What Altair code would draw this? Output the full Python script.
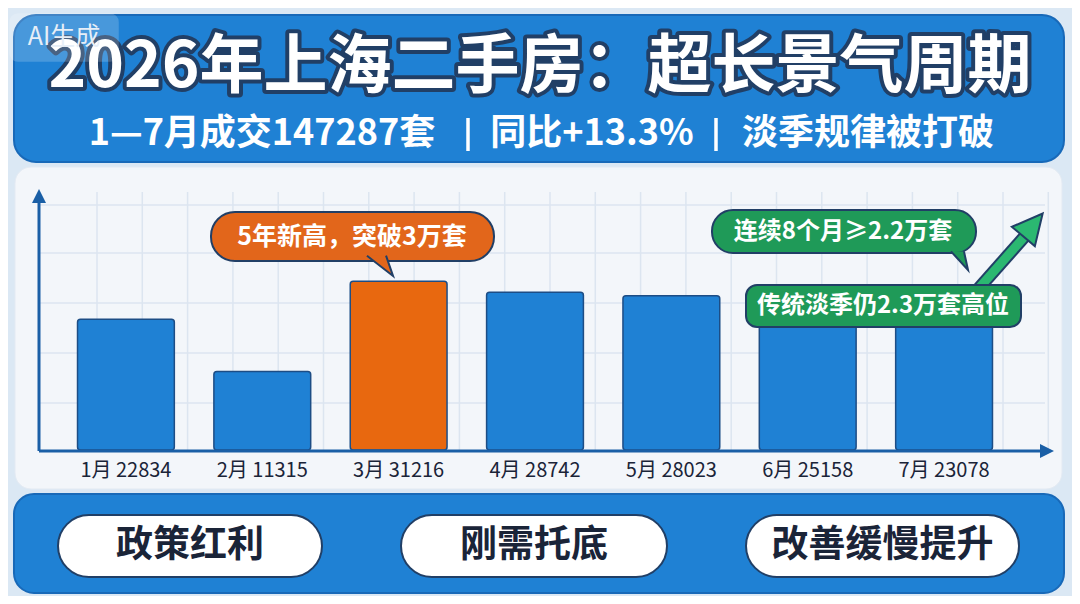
import altair as alt
import pandas as pd

# ---------------- data ----------------
months = ["1月", "2月", "3月", "4月", "5月", "6月", "7月"]
volumes = [22834, 11315, 31216, 28742, 28023, 25158, 23078]
highlight_month = "3月"

title_text = "2026年上海二手房：超长景气周期"
subtitle_parts = ["1—7月成交147287套", "同比+13.3%", "淡季规律被打破"]
callout_peak = "5年新高，突破3万套"
callout_streak = "连续8个月≥2.2万套"
callout_offseason = "传统淡季仍2.3万套高位"
factors = ["政策红利", "刚需托底", "改善缓慢提升"]
watermark = "AI生成"

# ---------------- styling ----------------
W, H = 1064, 588
OX, OY = 8, 8
FONT = "Noto Sans CJK SC"
BG = "#dbe8f4"
BLUE = "#1f81d4"
BLUE_DARK = "#1a5fa6"
ORANGE = "#e8680f"
GREEN = "#1f9a58"
ARROW_GREEN = "#2bb871"
OUTLINE = "#213f66"
NAVY = "#1a2438"

one = alt.Data(values=[{"a": 1}])


def sx(x):
    return x - OX


def sy(y):
    return y - OY


def box(x1, y1, x2, y2, fill, stroke=None, sw=0, r=0, opacity=1.0):
    kw = dict(fill=fill, cornerRadius=r, opacity=opacity)
    if stroke:
        kw.update(stroke=stroke, strokeWidth=sw)
    return alt.Chart(one).mark_rect(**kw).encode(
        x=alt.value(sx(x1)), x2=alt.value(sx(x2)),
        y=alt.value(sy(y1)), y2=alt.value(sy(y2)))


def label(txt, x, y, size, color, weight="normal", stroke=None, sw=0, align="center"):
    kw = dict(text=txt, fontSize=size, font=FONT, fill=color, fontWeight=weight,
              align=align, baseline="middle")
    if stroke:
        kw.update(stroke=stroke, strokeWidth=sw, strokeJoin="round")
    return alt.Chart(one).mark_text(**kw).encode(x=alt.value(sx(x)), y=alt.value(sy(y)))


def line(x1, y1, x2, y2, color, w, cap="butt"):
    return alt.Chart(one).mark_rule(color=color, strokeWidth=w, strokeCap=cap).encode(
        x=alt.value(sx(x1)), x2=alt.value(sx(x2)),
        y=alt.value(sy(y1)), y2=alt.value(sy(y2)))


def shape(path, x, y, side, fill, stroke=None, sw=0, angle=0):
    kw = dict(shape=path, size=side * side, filled=True, fill=fill, opacity=1, angle=angle)
    if stroke:
        kw.update(stroke=stroke, strokeWidth=sw, strokeOpacity=1)
    else:
        kw.update(strokeWidth=0)
    return alt.Chart(one).mark_point(**kw).encode(x=alt.value(sx(x)), y=alt.value(sy(y)))


TRI_UP = "M 0 -1 L 1 1 L -1 1 Z"

layers = []

# header
layers.append(box(14, 15, 1064, 162, BLUE, stroke="#1869b8", sw=2, r=22))
layers.append(label(title_text, 540, 68, 64, OUTLINE, weight="bold", stroke=OUTLINE, sw=8))
layers.append(label(title_text, 540, 68, 64, "#ffffff", weight="bold"))
# subtitle: three segments separated by thin bars
layers.append(label(subtitle_parts[0], 262, 134, 36, "#ffffff", weight="bold"))
layers.append(line(468, 118, 468, 151, "#ffffff", 3.5))
layers.append(label(subtitle_parts[1], 592, 134, 36, "#ffffff", weight="bold"))
layers.append(line(716, 118, 716, 151, "#ffffff", 3.5))
layers.append(label(subtitle_parts[2], 868, 134, 36, "#ffffff", weight="bold"))

# watermark
layers.append(box(10, 14, 118, 61, "#ffffff", stroke="#ffffff", sw=1.5, r=8, opacity=0.18))
layers.append(label(watermark, 64, 37, 25, "#e6eef7"))

# chart panel
layers.append(box(15, 167, 1062, 489, "#f3f6fa", stroke="#e3eaf3", sw=1, r=16))

# grid
for gy in [205, 253, 303, 353, 403]:
    layers.append(line(40, gy, 1045, gy, "#dce5f0", 1.5))
gx = 97.0
while gx < 1050:
    layers.append(line(gx, 192, gx, 450, "#dce5f0", 1.5))
    gx += 45.3

# bars
df = pd.DataFrame({"month": months, "volume": volumes})
df["label"] = [f"{m} {v}" for m, v in zip(months, volumes)]

xenc = alt.X("month:N", sort=months, axis=None,
             scale=alt.Scale(range=[sx(57.75), sx(1012.25)], paddingInner=0.29, paddingOuter=0.145))
yenc = alt.Y("volume:Q", axis=None, stack=None,
             scale=alt.Scale(domain=[-6000, 48000], range=[sy(450), sy(205)]))

bars = alt.Chart(df).mark_bar(cornerRadius=3, stroke="#1d4d85", strokeWidth=1.5).encode(
    x=xenc, y=yenc, y2=alt.datum(-6000),
    color=alt.condition(alt.datum.month == highlight_month, alt.value(ORANGE), alt.value(BLUE)))
layers.append(bars)

bar_labels = alt.Chart(df).mark_text(font=FONT, fontSize=20, color=NAVY, baseline="middle").encode(
    x=xenc, y=alt.value(sy(471)), text="label:N")
layers.append(bar_labels)

# axes with arrows
layers.append(line(39, 451, 1044, 451, BLUE_DARK, 3))
layers.append(line(39, 451, 39, 198, BLUE_DARK, 3))
layers.append(shape(TRI_UP, 39, 196, 14, BLUE_DARK))
layers.append(shape(TRI_UP, 1047, 451, 14, BLUE_DARK, angle=90))

# orange callout
layers.append(box(211, 212, 494, 261, "#e2661b", stroke=OUTLINE, sw=2, r=24))
layers.append(shape("M -0.93 -0.45 L 0.93 1 L 0.43 -0.45", 380, 262, 28, "#e2661b", stroke=OUTLINE, sw=2))
layers.append(label(callout_peak, 352, 237, 25, "#ffffff", weight="bold"))

# green arrow (behind the lower green label)
layers.append(line(972, 296, 1026, 235, OUTLINE, 13))
layers.append(line(972, 296, 1026, 235, ARROW_GREEN, 9))
layers.append(shape(TRI_UP, 1033, 225, 30, ARROW_GREEN, stroke=OUTLINE, sw=2, angle=40))

# green callout 1
layers.append(box(712, 210, 976, 253, GREEN, stroke=OUTLINE, sw=2, r=21))
layers.append(shape("M -0.75 -0.55 L 0.67 1 L 0.33 -0.55", 960, 258, 24, GREEN, stroke=OUTLINE, sw=2))
layers.append(label(callout_streak, 843, 232, 24, "#ffffff", weight="bold"))

# green label 2
layers.append(box(746, 285, 1021, 327, GREEN, stroke=OUTLINE, sw=2, r=11))
layers.append(label(callout_offseason, 883, 306, 24, "#ffffff", weight="bold"))

# bottom factor panel
layers.append(box(14, 494, 1064, 593, BLUE, stroke="#1869b8", sw=2, r=20))
pill_spans = [(58, 322), (401, 667), (746, 1019)]
for (a, b), txt in zip(pill_spans, factors):
    layers.append(box(a, 515, b, 577, "#ffffff", stroke=OUTLINE, sw=2, r=31))
    layers.append(label(txt, (a + b) / 2, 546, 37, NAVY, weight="bold"))

chart = alt.layer(*layers).properties(
    width=W, height=H, background=BG, padding=0,
    autosize=alt.AutoSizeParams(type="none"),
).configure_view(stroke=None)

chart.save("out.html", embed_options={"renderer": "svg", "actions": False})
